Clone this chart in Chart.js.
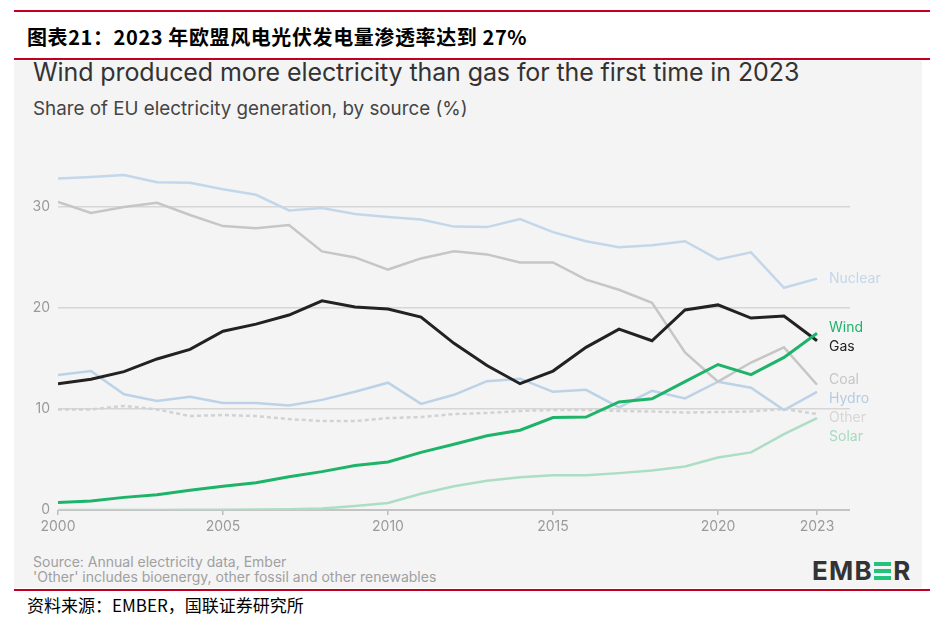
<!DOCTYPE html>
<html lang="zh">
<head>
<meta charset="UTF-8">
<title>2023 EU electricity share</title>
<script src="https://cdn.jsdelivr.net/npm/chart.js"></script>
<style>
  body { margin: 0; width: 946px; height: 626px; background: #fff; position: relative; overflow: hidden; font-family: Inter, "Noto Sans", sans-serif; }
  .rule { position: absolute; left: 14px; width: 916px; height: 2px; background: #c00020; }
  .cn-title { position: absolute; left: 27px; top: 22px; font: bold 20px "Noto Sans CJK SC", sans-serif; color: #000; letter-spacing: 0.6px; }
  .panel { position: absolute; left: 14px; top: 61px; width: 908px; height: 527px; background: #f4f4f4; }
  .title { position: absolute; left: 33px; top: 57px; font-size: 25px; color: #333; letter-spacing: -0.1px; }
  .subtitle { position: absolute; left: 33px; top: 97px; font-size: 18.8px; color: #444; }
  .source { position: absolute; left: 33px; top: 554px; font-size: 14px; line-height: 15px; color: #a0a0a0; }
  .logo { position: absolute; left: 812px; top: 555px; font: bold 26px Inter, sans-serif; color: #333; letter-spacing: 1.3px; }
  .logo .e { display: inline-block; width: 17px; height: 19px; position: relative; vertical-align: -1px; margin: 0 2px 0 1px; }
  .logo .e i { position: absolute; left: 0; width: 17px; height: 4px; background: #22c47c; }
  .cn-foot { position: absolute; left: 27px; top: 592px; font: 17px "Noto Sans CJK SC", sans-serif; color: #000; }
  #wrap { position: absolute; left: 14px; top: 140px; width: 907px; height: 405px; }
</style>
</head>
<body>
<div class="rule" style="top:10px"></div>
<div class="cn-title">图表21：2023 年欧盟风电光伏发电量渗透率达到 27%</div>
<div class="rule" style="top:58px"></div>
<div class="panel"></div>
<div class="title">Wind produced more electricity than gas for the first time in 2023</div>
<div class="subtitle">Share of EU electricity generation, by source (%)</div>
<div id="wrap"><canvas id="chart" width="907" height="405"></canvas></div>
<div class="source">Source: Annual electricity data, Ember<br>'Other' includes bioenergy, other fossil and other renewables</div>
<div class="logo">EMB<span class="e"><i style="top:0"></i><i style="top:7px"></i><i style="top:14px"></i></span>R</div>
<div class="rule" style="top:589px"></div>
<div class="cn-foot">资料来源：EMBER，国联证券研究所</div>
<script>
const years = [2000,2001,2002,2003,2004,2005,2006,2007,2008,2009,2010,2011,2012,2013,2014,2015,2016,2017,2018,2019,2020,2021,2022,2023];
const xTicks = [2000, 2005, 2010, 2015, 2020, 2023];
const yTicks = [0, 10, 20, 30];

const wind    = [0.75,0.9,1.25,1.5,1.95,2.35,2.7,3.3,3.8,4.4,4.75,5.7,6.5,7.35,7.9,9.15,9.2,10.7,11.0,12.7,14.4,13.4,15.1,17.5];
const gas     = [12.5,12.95,13.7,14.95,15.9,17.7,18.4,19.3,20.7,20.1,19.9,19.1,16.5,14.3,12.5,13.75,16.1,17.9,16.75,19.8,20.3,19.0,19.2,16.75];
const nuclear = [32.8,32.95,33.15,32.45,32.4,31.75,31.2,29.65,29.9,29.3,29.0,28.75,28.05,28.0,28.8,27.5,26.6,26.0,26.2,26.6,24.8,25.5,22.0,22.9];
const coal    = [30.5,29.4,30.0,30.4,29.2,28.1,27.9,28.2,25.6,25.0,23.8,24.9,25.6,25.3,24.5,24.5,22.8,21.8,20.5,15.6,12.7,14.6,16.1,12.4];
const hydro   = [13.35,13.75,11.45,10.8,11.2,10.6,10.6,10.35,10.9,11.7,12.6,10.5,11.4,12.75,13.0,11.7,11.9,10.15,11.8,11.05,12.7,12.1,9.9,11.7];
const other   = [9.95,9.95,10.3,9.95,9.3,9.4,9.3,9.0,8.8,8.8,9.1,9.2,9.5,9.6,9.8,9.9,9.9,9.8,9.75,9.65,9.7,9.75,10.0,9.5];
const solar   = [0,0,0,0,0.02,0.03,0.05,0.08,0.15,0.4,0.7,1.6,2.35,2.9,3.25,3.45,3.45,3.65,3.9,4.3,5.2,5.7,7.5,9.1];

const pts = arr => arr.map((v, i) => ({ x: years[i], y: v }));

function series(label, data, color, width, dash, labelColor) {
    return {
        label, data: pts(data), borderColor: color, borderWidth: width,
        borderDash: dash || [], pointRadius: 0, tension: 0, fill: false,
        labelColor: labelColor || color
    };
}

// gap between end labels on the right
const LABEL_GAP = 19;

const endLabels = {
    id: 'endLabels',
    afterDatasetsDraw(chart) {
        const { ctx, scales: { x, y } } = chart;
        let items = chart.data.datasets.map(ds => ({
            text: ds.label, color: ds.labelColor,
            y: y.getPixelForValue(ds.data[ds.data.length - 1].y)
        }));
        items.sort((a, b) => a.y - b.y);
        // group overlapping labels, then place each group from its top item down
        let groups = items.map(it => ({ items: [it], mid: it.y }));
        let merged = true;
        while (merged) {
            merged = false;
            for (let i = 1; i < groups.length; i++) {
                const a = groups[i - 1], b = groups[i];
                const aBottom = a.mid + (a.items.length - 1) * LABEL_GAP / 2;
                const bTop = b.mid - (b.items.length - 1) * LABEL_GAP / 2;
                if (bTop - aBottom < LABEL_GAP) {
                    const all = a.items.concat(b.items);
                    const mid = all.reduce((s, it) => s + it.y, 0) / all.length;
                    groups.splice(i - 1, 2, { items: all, mid });
                    merged = true;
                    break;
                }
            }
        }
        const lx = x.getPixelForValue(2023) + 12;
        ctx.save();
        ctx.font = '14px Inter, "Noto Sans", sans-serif';
        ctx.textBaseline = 'middle';
        groups.forEach(g => {
            let start = g.mid - (g.items.length - 1) * LABEL_GAP / 2;
            if (g.items.length > 2) start = Math.max(start, g.items[0].y - 5);
            g.items.forEach((it, k) => {
                ctx.fillStyle = it.color;
                ctx.fillText(it.text, lx, start + k * LABEL_GAP);
            });
        });
        ctx.restore();
    }
};

new Chart(document.getElementById('chart'), {
    type: 'line',
    data: {
        datasets: [
            series('Wind', wind, '#1db46a', 3),
            series('Gas', gas, '#222222', 3),
            series('Nuclear', nuclear, '#c3d7ea', 2.5),
            series('Coal', coal, '#c6c6c6', 2.5),
            series('Hydro', hydro, '#bcd2e7', 2.5, null, '#b4cce3'),
            series('Other', other, '#d2d2d2', 2.5, [4, 3], '#d6d6d6'),
            series('Solar', solar, '#acdec5', 2.5, null, '#a6dbc0')
        ]
    },
    options: {
        responsive: false,
        animation: false,
        layout: { padding: { top: 12, right: 71, left: 0, bottom: 0 } },
        plugins: { legend: { display: false }, tooltip: { enabled: false } },
        scales: {
            x: {
                type: 'linear', min: 2000, max: 2024,
                afterBuildTicks: axis => { axis.ticks = xTicks.map(v => ({ value: v })); },
                afterFit: axis => { axis.height = 35; },
                grid: { drawOnChartArea: false, drawTicks: true, tickLength: 5, color: '#bbbbbb', lineWidth: 1.5 },
                border: { display: false },
                ticks: { color: '#9a9a9a', font: { size: 14, family: 'Inter' }, padding: 3, maxRotation: 0, callback: v => String(v) }
            },
            y: {
                min: 0, max: 35,
                afterBuildTicks: axis => { axis.ticks = yTicks.map(v => ({ value: v })); },
                afterFit: axis => { axis.width = 44; },
                grid: {
                    drawTicks: false,
                    color: c => c.tick.value === 0 ? '#c4c4c4' : '#d6d6d6',
                    lineWidth: c => c.tick.value === 0 ? 2 : 1.5
                },
                border: { display: false },
                ticks: { color: '#9a9a9a', font: { size: 14, family: 'Inter' }, padding: 8 }
            }
        }
    },
    plugins: [endLabels]
});
</script>
</body>
</html>
